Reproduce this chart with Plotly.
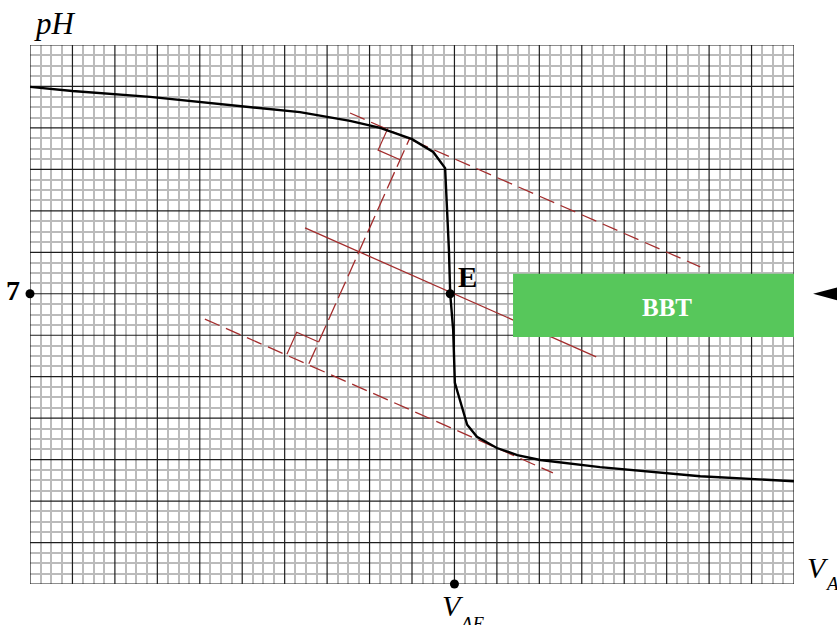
import numpy as np
import plotly.graph_objects as go

# Titration curve: added volume (mL) vs pH
volume = [0, 1.0, 2.83, 5.18, 6.36, 7.54, 8.25, 9.0, 9.5, 9.78, 9.82, 9.87, 9.9,
          9.97, 10.01, 10.3, 10.53, 11.0, 11.48, 12.02, 13.43, 15.79, 18.0]
ph = [11.99, 11.89, 11.75, 11.5, 11.38, 11.17, 11.0, 10.73, 10.42, 10.03, 9.26, 8.06, 7.0,
      6.13, 4.85, 3.84, 3.55, 3.28, 3.11, 2.99, 2.82, 2.6, 2.48]

# Equivalence point and reference values
E_POINT = (9.9, 7.0)
V_AE = 10.0
PH_NEUTRAL = 7.0

# Tangent construction (parallel tangents, their perpendicular, and the middle line)
upper_tangent_v = [7.54, 15.79]
upper_tangent_ph = [11.36, 7.65]
lower_tangent_v = [4.12, 12.32]
lower_tangent_ph = [6.39, 2.68]
middle_line_v = [6.48, 13.34]
middle_line_ph = [8.59, 5.48]
perp_v = [6.57, 8.95]
perp_ph = [5.31, 10.76]

# Indicator zone box
box_v = [11.38, 18.0]
box_ph = [5.96, 7.48]
box_label = "BBT"

X_RANGE = [0, 18]
Y_RANGE = [0, 13]

# pixel scale of each axis, used to keep the right-angle marks square on screen
W, H = 837, 625
ML, MR, MT, MB = 30, 43, 45, 41
SX = (W - ML - MR) / (X_RANGE[1] - X_RANGE[0])
SY = (H - MT - MB) / (Y_RANGE[1] - Y_RANGE[0])
SQ = 24.0  # side of the right-angle marks in px


def to_px(v, p):
    return np.array([v * SX, p * SY])


def to_data(q):
    return q[0] / SX, q[1] / SY


u = to_px(upper_tangent_v[0], upper_tangent_ph[0]) - to_px(upper_tangent_v[1], upper_tangent_ph[1])
u = u / np.linalg.norm(u)
F = to_px(perp_v[0], perp_ph[0])
G = to_px(perp_v[1], perp_ph[1])
n = (G - F) / np.linalg.norm(G - F)

sq_low = [F + SQ * u, F + SQ * u + SQ * n, F + SQ * n]
sq_up = [G + SQ * u, G + SQ * u - SQ * n, G - SQ * n]

RED = "#a32c2c"
DASH = "16px,7px"

fig = go.Figure()

for xs, ys in [(upper_tangent_v, upper_tangent_ph), (lower_tangent_v, lower_tangent_ph)]:
    fig.add_trace(go.Scatter(x=xs, y=ys, mode="lines",
                             line=dict(color=RED, width=1.3, dash=DASH),
                             hoverinfo="skip", showlegend=False))

fig.add_trace(go.Scatter(x=perp_v, y=perp_ph, mode="lines",
                         line=dict(color=RED, width=1.3, dash="18px,6px"),
                         hoverinfo="skip", showlegend=False))

fig.add_trace(go.Scatter(x=middle_line_v, y=middle_line_ph, mode="lines",
                         line=dict(color=RED, width=1.3),
                         hoverinfo="skip", showlegend=False))

for sq in (sq_low, sq_up):
    pts = [to_data(q) for q in sq]
    fig.add_trace(go.Scatter(x=[p[0] for p in pts], y=[p[1] for p in pts], mode="lines",
                             line=dict(color=RED, width=1.2),
                             hoverinfo="skip", showlegend=False))

# titration curve
fig.add_trace(go.Scatter(x=volume, y=ph, mode="lines",
                         line=dict(color="black", width=2.4),
                         showlegend=False))

# marked points
fig.add_trace(go.Scatter(x=[E_POINT[0], V_AE, X_RANGE[0]], y=[E_POINT[1], Y_RANGE[0], PH_NEUTRAL],
                         mode="markers", marker=dict(color="black", size=9),
                         cliponaxis=False, showlegend=False))

serif = "Liberation Serif"

# major graph-paper lines, drawn over the fine grid but under the traces
MAJOR = dict(color="#1e1e1e", width=1.2)
for v in range(X_RANGE[0], X_RANGE[1] + 1):
    fig.add_shape(type="line", xref="x", yref="y", x0=v, x1=v, y0=Y_RANGE[0], y1=Y_RANGE[1],
                  line=MAJOR, layer="between")
for p in range(Y_RANGE[0], Y_RANGE[1] + 1):
    fig.add_shape(type="line", xref="x", yref="y", x0=X_RANGE[0], x1=X_RANGE[1], y0=p, y1=p,
                  line=MAJOR, layer="between")

fig.add_shape(type="rect", xref="x", yref="y",
              x0=box_v[0], x1=box_v[1], y0=box_ph[0], y1=box_ph[1],
              fillcolor="#57c75b", line=dict(width=0), layer="above")

# arrowhead pointing at the box from the right
fig.add_shape(type="path", xref="paper", yref="y",
              path=f"M 1.025 {PH_NEUTRAL} L 1.08 {PH_NEUTRAL + 0.27} L 1.08 {PH_NEUTRAL - 0.27} Z",
              fillcolor="black", line=dict(width=0), layer="above")


def txt(size):
    return dict(family=serif, size=size, color="black")


annotations = [
    dict(text="<i>pH</i>", xref="paper", yref="paper", x=0.002, y=1.0, xanchor="left",
         yanchor="top", yshift=41, font=txt(31)),
    dict(text="<b>7</b>", xref="paper", yref="y", x=0, y=PH_NEUTRAL, xanchor="right",
         yanchor="middle", xshift=-8, yshift=3, font=txt(28)),
    dict(text="<b>E</b>", xref="x", yref="y", x=E_POINT[0], y=E_POINT[1], xanchor="left",
         yanchor="middle", xshift=6, yshift=17, font=txt(29)),
    dict(text=f"<b>{box_label}</b>", xref="x", yref="y", x=15.0, y=6.68, xanchor="center",
         yanchor="middle", font=dict(family=serif, size=25, color="white")),
    # volume at equivalence, written below the axis
    dict(text="<i>V</i>", xref="x", yref="paper", x=V_AE, y=0,
         xanchor="center", yanchor="top", xshift=-1, yshift=-3, font=txt(30)),
    dict(text="<i>AE</i>", xref="x", yref="paper", x=V_AE, y=0,
         xanchor="left", yanchor="top", xshift=3, yshift=-27, font=txt(19)),
    # x-axis name
    dict(text="<i>V</i>", xref="paper", yref="paper", x=1.0, y=0,
         xanchor="left", yanchor="top", xshift=11, yshift=35, font=txt(30)),
    dict(text="<i>A</i>", xref="paper", yref="paper", x=1.0, y=0,
         xanchor="left", yanchor="top", xshift=29, yshift=13, font=txt(19)),
]
for a in annotations:
    a["showarrow"] = False

grid_axis = dict(
    tickmode="linear", dtick=1, showticklabels=False, ticks="",
    showgrid=False, zeroline=False,
    showline=False,
    minor=dict(dtick=0.25, showgrid=True, gridcolor="#bbbbbb", gridwidth=1.5),
    fixedrange=True,
)

fig.update_layout(
    width=W, height=H,
    margin=dict(l=ML, r=MR, t=MT, b=MB),
    plot_bgcolor="white", paper_bgcolor="white",
    xaxis=dict(range=X_RANGE, tick0=0, **grid_axis),
    yaxis=dict(range=Y_RANGE, tick0=0, **grid_axis),
    annotations=annotations,
    showlegend=False,
)

fig.write_html("out.html")
